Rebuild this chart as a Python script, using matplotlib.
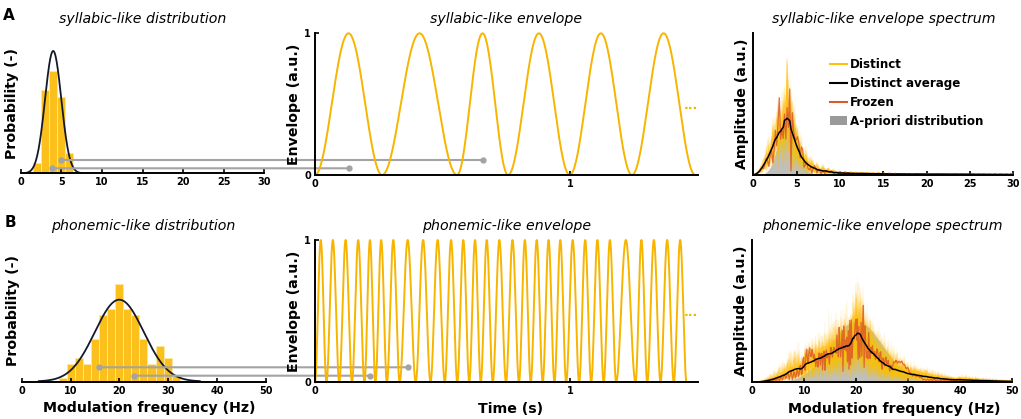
import numpy as np
import matplotlib
matplotlib.use('Agg')
import matplotlib.pyplot as plt
from math import gcd
from matplotlib.patches import ConnectionPatch, Patch
from matplotlib.lines import Line2D
from matplotlib.transforms import blended_transform_factory

# histogram of cycle frequencies (probability density per bin)
syl_bin_centers = [1, 2, 3, 4, 5, 6, 7]
syl_bin_probs = [0.003, 0.035, 0.27, 0.335, 0.248, 0.067, 0.003]
syl_bin_width = 1.0
syl_mu, syl_sigma = 4.0, 1.0

phon_bin_centers = [8.45, 10.1, 11.75, 13.4, 15.05, 16.7, 18.35, 20.0,
                    21.65, 23.3, 24.95, 26.6, 28.25, 29.9, 31.55]
phon_bin_probs = [0.0036, 0.0166, 0.0231, 0.0166, 0.041, 0.065, 0.071, 0.0954,
                  0.071, 0.065, 0.041, 0.0166, 0.0345, 0.0231, 0.0049]
phon_bin_width = 1.65
phon_mu, phon_sigma = 20.0, 5.0

# frequencies (Hz) of the successive cycles of the shown envelopes
syl_cycles = [3.8, 3.4, 5.0, 4.13, 4.1, 4.03]
phon_cycles = [22.4, 20.0, 20.0, 20.6, 23.0, 22.4, 20.0, 15.8, 17.2, 17.7,
               20.6, 21.1, 22.2, 21.1, 19.1, 19.5, 21.7, 21.1, 21.9, 21.7,
               19.5, 21.1, 20.6, 20.4, 13.1, 21.7, 19.1, 19.1, 20.0]
# cycles linked to the distribution by grey lines
syl_links = [2, 0]
phon_links = [7, 4]

FS = 1000
W, H = 1021, 419
YELLOW = '#fcc01c'
ENV = '#f7b500'
FROZEN = '#dc5a28'
GREY = '#a3a3a3'
LABEL = dict(fontsize=10.2, fontweight='bold')
TITLE = dict(fontsize=10.2, style='italic')


def build_env(freqs):
    segs = []
    for f in freqs:
        n = int(round(FS / f))
        t = np.arange(n) / n
        segs.append((1 - np.cos(2 * np.pi * t)) / 2)
    return np.concatenate(segs)


def amp_spec(x, nfft):
    x = x - x.mean()
    return np.fft.rfftfreq(nfft, 1 / FS), np.abs(np.fft.rfft(x, nfft)) / np.sqrt(len(x))


def pool_from_hist(centers, probs, width, n):
    # spread the cycles of each bin evenly over the bin
    counts = np.round(np.array(probs) * width * n).astype(int)
    out = []
    for c, k in zip(centers, counts):
        out.extend(c + width * ((np.arange(k) + 0.5) / max(k, 1) - 0.5))
    return np.array(out)


def spectra(cycles, centers, probs, width, n_pool, n_distinct):
    pool = pool_from_hist(centers, probs, width, n_pool)
    N = len(pool)
    strides = [s for s in range(2, N) if gcd(s, N) == 1]
    nfft = int(FS * (np.sum(1 / pool) + np.sum(1 / np.array(cycles)))) + 64
    distinct = []
    for k in range(n_distinct):
        order = (k * 5 + np.arange(N) * strides[k % len(strides)]) % N
        distinct.append(amp_spec(build_env(pool[order]), nfft)[1])
    f = np.fft.rfftfreq(nfft, 1 / FS)
    avg = np.mean(distinct, axis=0)
    avg = np.convolve(avg, np.ones(5) / 5, mode='same')
    frozen_seq = np.concatenate([cycles, pool[(np.arange(N) * strides[-1]) % N]])
    fr = amp_spec(build_env(frozen_seq), nfft)[1]
    scale = avg.max()
    return f, [d / scale for d in distinct], avg / scale, fr / scale


def px_axes(x0, x1, ytop, ybot):
    return fig.add_axes([x0 / W, 1 - ybot / H, (x1 - x0) / W, (ybot - ytop) / H])


def style_ticks(ax):
    ax.tick_params(direction='in', length=3, width=1.2, labelsize=7, pad=3)
    for lab in ax.get_xticklabels() + ax.get_yticklabels():
        lab.set_fontweight('bold')
    for s in ['top', 'right']:
        ax.spines[s].set_visible(False)
    for s in ['left', 'bottom']:
        ax.spines[s].set_linewidth(1.4)


def draw_dist(ax, centers, probs, width, mu, sigma, xmax, xstep, ytop, title):
    ax.bar(centers, probs, width=width, color=YELLOW, edgecolor='#fde7a6', linewidth=0.6)
    x = np.linspace(mu - 3.3 * sigma, mu + 3.3 * sigma, 300)
    ax.plot(x, np.exp(-0.5 * ((x - mu) / sigma) ** 2) / (sigma * np.sqrt(2 * np.pi)),
            color='#141a2a', lw=1.3)
    ax.set_xlim(0, xmax)
    ax.set_ylim(0, ytop)
    ax.set_xticks(np.arange(0, xmax + 1, xstep))
    ax.set_yticks([])
    style_ticks(ax)
    ax.spines['left'].set_visible(False)
    ax.set_ylabel('Probability (-)', labelpad=1, **LABEL)
    ax.set_title(title, pad=7.5, **TITLE)


def draw_env(ax, cycles, title):
    y = build_env(cycles)
    t = np.arange(len(y)) / FS
    ax.plot(t, y, color=ENV, lw=1.4, clip_on=False)
    ax.set_xlim(0, 1.5)
    ax.set_ylim(0, 1)
    ax.set_xticks([0, 1])
    ax.set_yticks([0, 1])
    style_ticks(ax)
    ax.set_ylabel('Envelope (a.u.)', labelpad=2, **LABEL)
    ax.set_title(title, pad=7.5, **TITLE)
    ax.text(1.475, 0.49, '...', color=ENV, fontsize=9, fontweight='bold',
            ha='center', va='center')


def draw_spec(ax, cycles, centers, probs, width, n_pool, mu, sigma, xmax, xstep,
              ytop, prior_peak, title):
    f, distinct, avg, fr = spectra(cycles, centers, probs, width, n_pool, 60)
    for d in distinct:
        ax.plot(f, d, color='#ffc20e', lw=0.7, alpha=0.09)
    x = np.linspace(0, xmax, 600)
    g = prior_peak * np.exp(-0.5 * ((x - mu) / sigma) ** 2)
    ax.fill_between(x, 0, g, color='#8c8c8c', alpha=0.55, lw=0)
    ax.plot(f, fr, color=FROZEN, lw=0.9, alpha=0.85)
    ax.plot(f, avg, color='black', lw=1.1)
    ax.set_xlim(0, xmax)
    ax.set_ylim(0, ytop)
    ax.set_xticks(np.arange(0, xmax + 1, xstep))
    ax.set_yticks([])
    style_ticks(ax)
    ax.set_ylabel('Amplitude (a.u.)', labelpad=3, **LABEL)
    ax.set_title(title, pad=7.5, **TITLE)


def link(ax_d, ax_e, cycles, idx, yfig, color=GREY):
    start = sum(1 / f for f in cycles[:idx])
    t_peak = start + 0.5 / cycles[idx]
    tr_d = blended_transform_factory(ax_d.transData, fig.transFigure)
    tr_e = blended_transform_factory(ax_e.transData, fig.transFigure)
    con = ConnectionPatch(xyA=(cycles[idx], yfig), coordsA=tr_d,
                          xyB=(t_peak, yfig), coordsB=tr_e,
                          color=color, lw=1.5, zorder=1)
    ax_e.add_artist(con)
    ax_d.plot([cycles[idx]], [yfig], 'o', ms=3.5, color=color, transform=tr_d,
              clip_on=False, zorder=5)
    ax_e.plot([t_peak], [yfig], 'o', ms=3.5, color=color, transform=tr_e,
              clip_on=False, zorder=5)


fig = plt.figure(figsize=(W / 100, H / 100), dpi=100)

ax_da = px_axes(20.7, 264.3, 33, 173.3)
ax_ea = px_axes(315, 697.5, 33.3, 175)
ax_sa = px_axes(753.3, 1013.3, 33.3, 175)
ax_db = px_axes(21.7, 265.7, 240, 381.5)
ax_eb = px_axes(315, 697.5, 240, 382.3)
ax_sb = px_axes(752.3, 1012.3, 240, 382.3)

draw_dist(ax_da, syl_bin_centers, syl_bin_probs, syl_bin_width, syl_mu, syl_sigma,
          30, 5, 0.4575, 'syllabic-like distribution')
draw_dist(ax_db, phon_bin_centers, phon_bin_probs, phon_bin_width, phon_mu, phon_sigma,
          50, 10, 0.138, 'phonemic-like distribution')
draw_env(ax_ea, syl_cycles, 'syllabic-like envelope')
draw_env(ax_eb, phon_cycles, 'phonemic-like envelope')
draw_spec(ax_sa, syl_cycles, syl_bin_centers, syl_bin_probs, syl_bin_width, 20,
          syl_mu, syl_sigma, 30, 5, 2.5, 1.12, 'syllabic-like envelope spectrum')
draw_spec(ax_sb, phon_cycles, phon_bin_centers, phon_bin_probs, phon_bin_width, 100,
          phon_mu, phon_sigma, 50, 10, 2.9, 1.25, 'phonemic-like envelope spectrum')

ax_db.set_xlabel('Modulation frequency (Hz)', **LABEL)
ax_eb.set_xlabel('Time (s)', **LABEL)
ax_sb.set_xlabel('Modulation frequency (Hz)', **LABEL)
ax_db.xaxis.set_label_coords(0.524, -0.14)
ax_eb.xaxis.set_label_coords(0.51, -0.135)
ax_sb.xaxis.set_label_coords(0.545, -0.135)

link(ax_da, ax_ea, syl_cycles, syl_links[0], 1 - 160 / H)
link(ax_da, ax_ea, syl_cycles, syl_links[1], 1 - 168.3 / H)
link(ax_db, ax_eb, phon_cycles, phon_links[0], 1 - 367.3 / H)
link(ax_db, ax_eb, phon_cycles, phon_links[1], 1 - 375.7 / H)

handles = [Line2D([], [], color='#ffc20e', lw=1.5),
           Line2D([], [], color='black', lw=1.5),
           Line2D([], [], color=FROZEN, lw=1.5),
           Patch(facecolor='#9a9a9a', edgecolor='none')]
ax_sa.legend(handles, ['Distinct', 'Distinct average', 'Frozen', 'A-priori distribution'],
             loc='upper left', bbox_to_anchor=(0.275, 0.86), frameon=False,
             prop={'size': 8.6, 'weight': 'bold'}, handlelength=1.5,
             handletextpad=0.2, labelspacing=0.5, borderaxespad=0)

fig.text(9 / W, 1 - 15 / H, 'A', fontsize=11, fontweight='bold', ha='center', va='center')
fig.text(10 / W, 1 - 222 / H, 'B', fontsize=11, fontweight='bold', ha='center', va='center')

fig.savefig('out.png', dpi=100)
